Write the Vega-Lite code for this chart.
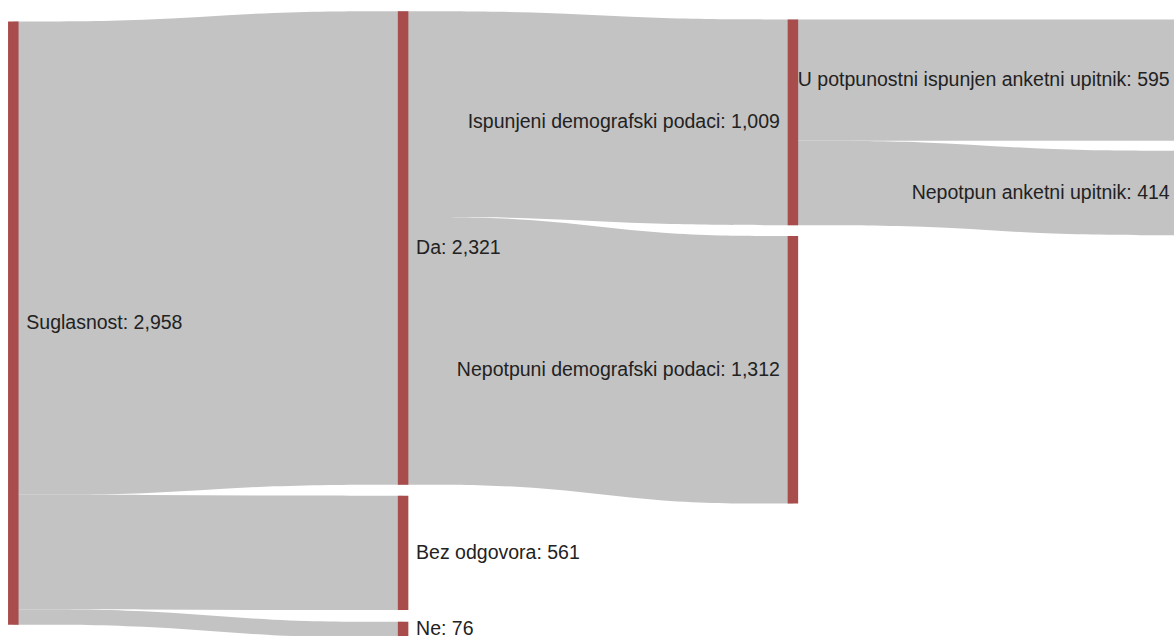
{
  "$schema": "https://vega.github.io/schema/vega-lite/v6.json",
  "width": 1174,
  "height": 636,
  "autosize": {"type": "none"},
  "padding": 0,
  "background": "white",
  "config": {"view": {"stroke": null}, "scale": {"continuousPadding": 0}},
  "datasets": {
    "nodes": [
      {"node": "Suglasnost", "label": "Suglasnost: 2,958", "value": 2958, "col": 0, "y0": 105, "y1": 3063},
      {"node": "Da", "label": "Da: 2,321", "value": 2321, "col": 1, "y0": 55, "y1": 2376},
      {"node": "Bez odgovora", "label": "Bez odgovora: 561", "value": 561, "col": 1, "y0": 2430, "y1": 2991},
      {"node": "Ne", "label": "Ne: 76", "value": 76, "col": 1, "y0": 3048, "y1": 3124},
      {"node": "Ispunjeni demografski podaci", "label": "Ispunjeni demografski podaci: 1,009", "value": 1009, "col": 2, "y0": 95, "y1": 1104},
      {"node": "Nepotpuni demografski podaci", "label": "Nepotpuni demografski podaci: 1,312", "value": 1312, "col": 2, "y0": 1157, "y1": 2469},
      {"node": "U potpunostni ispunjen anketni upitnik", "label": "U potpunostni ispunjen anketni upitnik: 595", "value": 595, "col": 3, "y0": 95, "y1": 690},
      {"node": "Nepotpun anketni upitnik", "label": "Nepotpun anketni upitnik: 414", "value": 414, "col": 3, "y0": 739, "y1": 1153}
    ],
    "links": [
      {"link": "Suglasnost → Da", "value": 2321, "x": 0, "y0": 105, "y1": 2426},
      {"link": "Suglasnost → Da", "value": 2321, "x": 0.333, "y0": 105, "y1": 2426},
      {"link": "Suglasnost → Da", "value": 2321, "x": 0.667, "y0": 55, "y1": 2376},
      {"link": "Suglasnost → Da", "value": 2321, "x": 1, "y0": 55, "y1": 2376},
      {"link": "Suglasnost → Bez odgovora", "value": 561, "x": 0, "y0": 2426, "y1": 2987},
      {"link": "Suglasnost → Bez odgovora", "value": 561, "x": 0.333, "y0": 2426, "y1": 2987},
      {"link": "Suglasnost → Bez odgovora", "value": 561, "x": 0.667, "y0": 2430, "y1": 2991},
      {"link": "Suglasnost → Bez odgovora", "value": 561, "x": 1, "y0": 2430, "y1": 2991},
      {"link": "Suglasnost → Ne", "value": 76, "x": 0, "y0": 2987, "y1": 3063},
      {"link": "Suglasnost → Ne", "value": 76, "x": 0.333, "y0": 2987, "y1": 3063},
      {"link": "Suglasnost → Ne", "value": 76, "x": 0.667, "y0": 3048, "y1": 3124},
      {"link": "Suglasnost → Ne", "value": 76, "x": 1, "y0": 3048, "y1": 3124},
      {"link": "Da → Ispunjeni", "value": 1009, "x": 1, "y0": 55, "y1": 1064},
      {"link": "Da → Ispunjeni", "value": 1009, "x": 1.333, "y0": 55, "y1": 1064},
      {"link": "Da → Ispunjeni", "value": 1009, "x": 1.667, "y0": 95, "y1": 1104},
      {"link": "Da → Ispunjeni", "value": 1009, "x": 2, "y0": 95, "y1": 1104},
      {"link": "Da → Nepotpuni", "value": 1312, "x": 1, "y0": 1064, "y1": 2376},
      {"link": "Da → Nepotpuni", "value": 1312, "x": 1.333, "y0": 1064, "y1": 2376},
      {"link": "Da → Nepotpuni", "value": 1312, "x": 1.667, "y0": 1157, "y1": 2469},
      {"link": "Da → Nepotpuni", "value": 1312, "x": 2, "y0": 1157, "y1": 2469},
      {"link": "Ispunjeni → U potpunostni", "value": 595, "x": 2, "y0": 95, "y1": 690},
      {"link": "Ispunjeni → U potpunostni", "value": 595, "x": 2.333, "y0": 95, "y1": 690},
      {"link": "Ispunjeni → U potpunostni", "value": 595, "x": 2.667, "y0": 95, "y1": 690},
      {"link": "Ispunjeni → U potpunostni", "value": 595, "x": 3, "y0": 95, "y1": 690},
      {"link": "Ispunjeni → Nepotpun", "value": 414, "x": 2, "y0": 690, "y1": 1104},
      {"link": "Ispunjeni → Nepotpun", "value": 414, "x": 2.333, "y0": 690, "y1": 1104},
      {"link": "Ispunjeni → Nepotpun", "value": 414, "x": 2.667, "y0": 739, "y1": 1153},
      {"link": "Ispunjeni → Nepotpun", "value": 414, "x": 3, "y0": 739, "y1": 1153}
    ]
  },
  "layer": [
    {
      "data": {"name": "links"},
      "mark": {"type": "area", "interpolate": "basis", "color": "#c3c3c3", "opacity": 1, "clip": true},
      "encoding": {
        "x": {"field": "x", "type": "quantitative", "axis": null, "scale": {"domain": [-0.03412, 2.97768], "nice": false, "zero": false, "padding": 0}},
        "y": {"field": "y0", "type": "quantitative", "axis": null, "scale": {"domain": [0, 3118], "nice": false, "zero": false, "reverse": true, "padding": 0}},
        "y2": {"field": "y1"},
        "detail": {"field": "link", "type": "nominal"}
      }
    },
    {
      "data": {"name": "nodes"},
      "mark": {"type": "bar", "width": 10.5, "color": "#a84c4c", "clip": true},
      "encoding": {
        "x": {"field": "col", "type": "quantitative", "axis": null, "scale": {"domain": [-0.03412, 2.97768], "nice": false, "zero": false, "padding": 0}},
        "y": {"field": "y0", "type": "quantitative", "axis": null, "scale": {"domain": [0, 3118], "nice": false, "zero": false, "reverse": true, "padding": 0}},
        "y2": {"field": "y1"}
      }
    },
    {
      "data": {"name": "nodes"},
      "transform": [
        {"filter": "datum.col < 1.5"},
        {"fold": ["y0", "y1"], "as": ["edge", "yy"]}
      ],
      "mark": {"type": "text", "align": "left", "baseline": "middle", "dx": 13, "font": "Liberation Sans", "fontSize": 19.5, "color": "#222222"},
      "encoding": {
        "x": {"field": "col", "type": "quantitative", "axis": null, "scale": {"domain": [-0.03412, 2.97768], "nice": false, "zero": false, "padding": 0}},
        "y": {"field": "yy", "aggregate": "mean", "type": "quantitative", "axis": null, "scale": {"domain": [0, 3118], "nice": false, "zero": false, "reverse": true, "padding": 0}},
        "text": {"field": "label", "type": "nominal"}
      }
    },
    {
      "data": {"name": "nodes"},
      "transform": [
        {"filter": "datum.col > 1.5"},
        {"fold": ["y0", "y1"], "as": ["edge", "yy"]}
      ],
      "mark": {"type": "text", "align": "right", "baseline": "middle", "dx": -13, "font": "Liberation Sans", "fontSize": 19.5, "color": "#222222"},
      "encoding": {
        "x": {"field": "col", "type": "quantitative", "axis": null, "scale": {"domain": [-0.03412, 2.97768], "nice": false, "zero": false, "padding": 0}},
        "y": {"field": "yy", "aggregate": "mean", "type": "quantitative", "axis": null, "scale": {"domain": [0, 3118], "nice": false, "zero": false, "reverse": true, "padding": 0}},
        "text": {"field": "label", "type": "nominal"}
      }
    }
  ]
}
